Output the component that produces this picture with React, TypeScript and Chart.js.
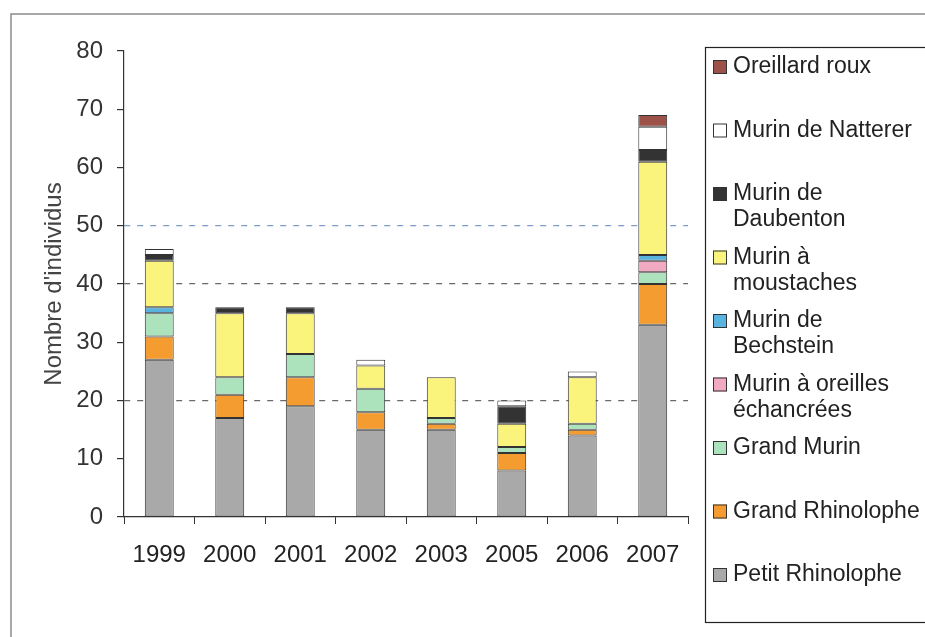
import React, { useEffect, useRef } from 'react';
import { Chart, registerables } from 'chart.js';

Chart.register(...registerables);

const categories = ['1999', '2000', '2001', '2002', '2003', '2005', '2006', '2007'];

const petitRhinolophe = [27, 17, 19, 15, 15, 8, 14, 33];
const grandRhinolophe = [4, 4, 5, 3, 1, 3, 1, 7];
const grandMurin = [4, 3, 4, 4, 1, 1, 1, 2];
const murinOreillesEchancrees = [0, 0, 0, 0, 0, 0, 0, 2];
const murinBechstein = [1, 0, 0, 0, 0, 0, 0, 1];
const murinMoustaches = [8, 11, 7, 4, 7, 4, 8, 16];
const murinDaubenton = [1, 1, 1, 0, 0, 3, 0, 2];
const murinNatterer = [1, 0, 0, 1, 0, 1, 1, 4];
const oreillardRoux = [0, 0, 0, 0, 0, 0, 0, 2];

const yTicks = [0, 10, 20, 30, 40, 50, 60, 70, 80];

const seriesNames = [
  ['Petit Rhinolophe'],
  ['Grand Rhinolophe'],
  ['Grand Murin'],
  ['Murin à oreilles', 'échancrées'],
  ['Murin de', 'Bechstein'],
  ['Murin à', 'moustaches'],
  ['Murin de', 'Daubenton'],
  ['Murin de Natterer'],
  ['Oreillard roux'],
];
const seriesValues = [
  petitRhinolophe,
  grandRhinolophe,
  grandMurin,
  murinOreillesEchancrees,
  murinBechstein,
  murinMoustaches,
  murinDaubenton,
  murinNatterer,
  oreillardRoux,
];
const seriesColors = [
  '#a9a9a9',
  '#f59c30',
  '#ace3bd',
  '#f2a9c2',
  '#58b3df',
  '#fbf47c',
  '#333333',
  '#ffffff',
  '#9c5149',
];

const FONT = '"Liberation Sans", Arial, sans-serif';

const boxLegend = {
  id: 'boxLegend',
  afterDraw(chart: any) {
    const ctx = chart.ctx as CanvasRenderingContext2D;
    ctx.save();
    // outer frame
    ctx.strokeStyle = '#8c8c8c';
    ctx.lineWidth = 1.5;
    ctx.beginPath();
    ctx.moveTo(11, 637);
    ctx.lineTo(11, 14);
    ctx.lineTo(925, 14);
    ctx.stroke();
    // legend box
    ctx.strokeStyle = '#222';
    ctx.lineWidth = 1.2;
    ctx.strokeRect(705.5, 47.5, 260, 575);
    ctx.font = `23px ${FONT}`;
    ctx.textBaseline = 'middle';
    ctx.textAlign = 'left';
    const n = seriesNames.length;
    for (let k = 0; k < n; k++) {
      const i = n - 1 - k;
      const y = 67 + k * 63.5;
      ctx.fillStyle = seriesColors[i];
      ctx.fillRect(713, y - 7, 14, 14);
      ctx.strokeStyle = '#333';
      ctx.lineWidth = 1;
      ctx.strokeRect(713.5, y - 6.5, 13, 13);
      ctx.fillStyle = '#222';
      seriesNames[i].forEach((line, j) => ctx.fillText(line, 733, y + j * 26));
    }
    ctx.restore();
  },
};

export default function App() {
  const ref = useRef<HTMLCanvasElement | null>(null);

  useEffect(() => {
    document.body.style.margin = '0';
    if (!ref.current) return;
    const chart = new Chart(ref.current, {
      type: 'bar',
      data: {
        labels: categories,
        datasets: seriesValues.map((vals, i) => ({
          label: seriesNames[i].join(' '),
          data: vals.map((v) => (v === 0 ? null : v)),
          backgroundColor: seriesColors[i],
          borderColor: '#333',
          borderWidth: 1,
          borderSkipped: false,
          barPercentage: 0.41,
          categoryPercentage: 1,
        })),
      },
      options: {
        responsive: false,
        animation: false,
        layout: { padding: { left: 0, top: 51, right: 237, bottom: 60 } },
        plugins: {
          legend: { display: false },
          tooltip: { enabled: false },
        },
        scales: {
          x: {
            stacked: true,
            afterFit: (s: any) => {
              s.height = 60;
            },
            grid: {
              display: true,
              drawOnChartArea: false,
              offset: true,
              tickLength: 7,
              tickColor: '#333',
            },
            border: { display: true, color: '#333', width: 1.2 },
            ticks: {
              color: '#222',
              font: { family: FONT, size: 24 },
              padding: 17,
              maxRotation: 0,
            },
          },
          y: {
            stacked: true,
            min: 0,
            max: 80,
            afterFit: (s: any) => {
              s.width = 124;
            },
            afterBuildTicks: (s: any) => {
              s.ticks = yTicks.map((v) => ({ value: v }));
            },
            grid: {
              color: (c: any) => {
                const v = c.tick ? c.tick.value : -1;
                if (v === 20 || v === 40) return '#6a6a6a';
                if (v === 50) return '#7c9dc9';
                return 'rgba(0,0,0,0)';
              },
              tickColor: '#333',
              tickLength: 7,
              lineWidth: 1.2,
            },
            border: { display: true, color: '#333', width: 1.2, dash: [6, 7] },
            ticks: {
              color: '#333',
              font: { family: FONT, size: 24 },
              padding: 14,
            },
            title: {
              display: true,
              text: "Nombre d'individus",
              color: '#444',
              font: { family: FONT, size: 24 },
              padding: { top: 40, bottom: 0 },
            },
          },
        },
      },
      plugins: [boxLegend],
    });
    return () => chart.destroy();
  }, []);

  return (
    <div style={{ width: 925, height: 637 }}>
      <canvas ref={ref} width={925} height={637} style={{ display: 'block' }} />
    </div>
  );
}
